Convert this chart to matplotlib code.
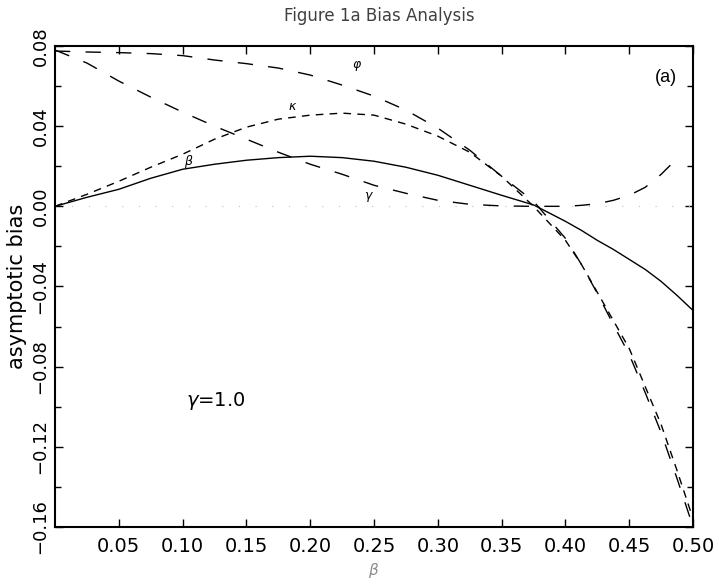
import matplotlib.pyplot as plt
from matplotlib.ticker import MultipleLocator
import numpy as np

# valores
beta_x = [0.0, 0.025, 0.05, 0.075, 0.1, 0.125, 0.15, 0.175, 0.2, 0.225, 0.25, 0.275,
          0.3, 0.325, 0.35, 0.375, 0.4, 0.4125, 0.425, 0.4375, 0.45, 0.4625, 0.475, 0.4875, 0.5]

sesgo_beta = [0.0, 0.0045, 0.0085, 0.014, 0.0185, 0.021, 0.023, 0.0243, 0.025, 0.0243, 0.0225, 0.0195,
              0.0155, 0.0105, 0.0055, 0.0007, -0.0075, -0.012, -0.017, -0.0215, -0.0265, -0.0315, -0.0375, -0.0445, -0.052]

sesgo_kappa = [0.0, 0.006, 0.0125, 0.0195, 0.026, 0.0335, 0.0395, 0.0435, 0.0455, 0.0465, 0.0455, 0.041,
               0.035, 0.027, 0.015, 0.0, -0.017, -0.029, -0.043, -0.057, -0.071, -0.090, -0.109, -0.132, -0.156]

sesgo_phi = [0.0775, 0.077, 0.0767, 0.0762, 0.0752, 0.073, 0.0712, 0.069, 0.0655, 0.0605, 0.055, 0.048,
             0.039, 0.028, 0.015, 0.0025, -0.016, -0.029, -0.0435, -0.059, -0.074, -0.093, -0.113, -0.136, -0.160]

gamma_x = [0.0, 0.025, 0.05, 0.075, 0.1, 0.125, 0.15, 0.175, 0.2, 0.225, 0.25, 0.275,
           0.3, 0.325, 0.35, 0.375, 0.4, 0.4125, 0.425, 0.4375, 0.45, 0.4625, 0.475, 0.49]
sesgo_gamma = [0.078, 0.0715, 0.0625, 0.0545, 0.047, 0.040, 0.0335, 0.027, 0.021, 0.016, 0.0105, 0.0065,
               0.003, 0.001, 0.0002, 0.0, 0.0, 0.0005, 0.0013, 0.003, 0.0055, 0.0095, 0.016, 0.0255]

x_ticks = [0.05, 0.10, 0.15, 0.20, 0.25, 0.30, 0.35, 0.40, 0.45, 0.50]
y_ticks = [0.08, 0.04, 0.00, -0.04, -0.08, -0.12, -0.16]

fig = plt.figure(figsize=(7.19, 5.86), dpi=100)
ax = fig.add_axes([0.0765, 0.1007, 0.8875, 0.8208])

# linea de referencia en cero (punteada tenue)
ax.plot([0, 0.5], [0, 0], color='0.75', lw=0.8, linestyle=(0, (1, 14)))

ax.plot(beta_x, sesgo_beta, color='black', lw=1.0)
ax.plot(beta_x, sesgo_kappa, color='black', lw=1.0, linestyle=(0, (5.5, 4.5)))
ax.plot(beta_x, sesgo_phi, color='black', lw=1.0, linestyle=(0, (11, 11)))
ax.plot(gamma_x, sesgo_gamma, color='black', lw=1.0, linestyle=(0, (11, 11)))

# etiquetas de las curvas
ax.text(0.237, 0.070, r'$\varphi$', fontsize=9, ha='center', va='center')
ax.text(0.186, 0.050, r'$\kappa$', fontsize=9, ha='center', va='center')
ax.text(0.105, 0.0225, r'$\beta$', fontsize=9, ha='center', va='center')
ax.text(0.246, 0.0045, r'$\gamma$', fontsize=9, ha='center', va='center')

ax.text(0.126, -0.097, r'$\gamma$=1.0', fontsize=14, ha='center', va='center')
ax.text(0.479, 0.0645, '(a)', fontsize=13, ha='center', va='center',
        family='Liberation Sans')

ax.set_xlim(0, 0.5)
ax.set_ylim(-0.16, 0.08)
ax.set_xticks(x_ticks)
ax.set_xticklabels([f'{v:.2f}' for v in x_ticks], fontsize=14)
ax.set_yticks(y_ticks)
ax.set_yticklabels([f'{v:.2f}'.replace('-', '\u2212') for v in y_ticks],
                   fontsize=13, rotation=90, va='center')
ax.yaxis.set_minor_locator(MultipleLocator(0.02))
ax.tick_params(which='both', direction='in', top=True, right=True)
ax.tick_params(which='major', length=6, width=1, pad=7)
ax.tick_params(axis='y', which='major', pad=4)
ax.tick_params(which='minor', length=4, width=1)
for s in ax.spines.values():
    s.set_linewidth(1.5)

ax.set_ylabel('asymptotic bias', fontsize=15, va='center')
ax.yaxis.set_label_coords(-0.06, 0.5)
ax.set_xlabel(r'$\beta$', fontsize=11, color='0.55', labelpad=4)
fig.text(0.527, 0.972, 'Figure 1a Bias Analysis', fontsize=12, ha='center', va='center',
         color='0.25')

fig.savefig('out.png', dpi=100)
